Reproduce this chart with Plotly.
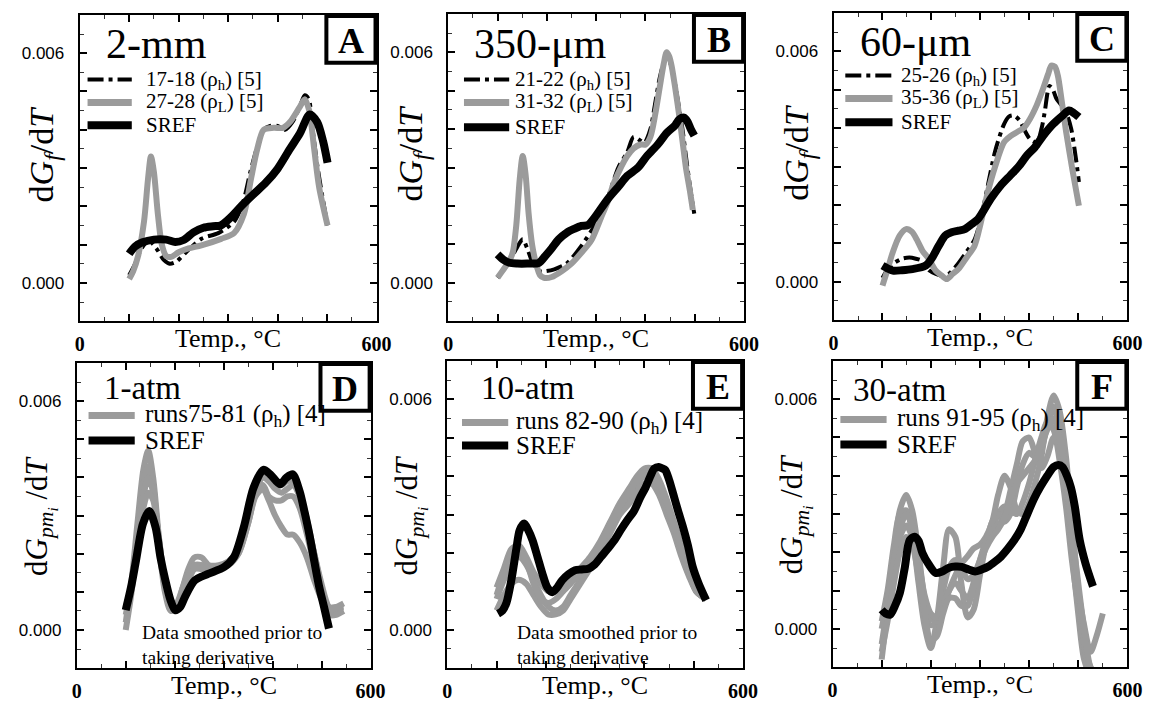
import plotly.graph_objects as go

W, H = 1164, 702

# ---------------- DATA ----------------
# Panel A (2-mm)
A_T_sref = [100,112,127,150,175,193,210,230,250,270,285,306,330,350,375,400,425,445,465,480,492,501]
A_sref = [0.00076,0.00095,0.00106,0.00113,0.00113,0.00107,0.00112,0.00132,0.00144,0.00148,0.0015,0.00172,0.00205,0.0023,0.0026,0.00298,0.0035,0.0039,0.0044,0.0042,0.0037,0.00314]
A_T_L = [100,108,118,130,138,144,150,158,166,175,185,200,220,246,286,312,332,346,359,372,392,411,425,445,455,464,474,484,501]
A_L = [0.0001,0.0003,0.0007,0.0016,0.0027,0.0033,0.0029,0.0018,0.0010,0.0007,0.00068,0.0008,0.0009,0.00098,0.00115,0.0013,0.0018,0.0027,0.0035,0.0040,0.00405,0.00405,0.0042,0.0046,0.0048,0.0045,0.0035,0.0025,0.0015]
A_T_h = [100,112,125,140,155,170,182,195,215,246,280,312,330,345,360,372,385,400,415,430,445,455,463,470,480,490,501]
A_h = [0.0002,0.0005,0.0009,0.0011,0.0009,0.0006,0.0005,0.00055,0.0008,0.00115,0.0013,0.0016,0.0021,0.0029,0.0036,0.0040,0.0041,0.0041,0.0040,0.0042,0.0046,0.0049,0.0048,0.0041,0.0031,0.0023,0.0015]

# Panel B (350-um)
B_T_sref = [100,112,124,140,160,184,197,210,224,240,255,270,283,297,323,345,363,385,403,425,443,460,469,478,485,492,499]
B_sref = [0.00074,0.0006,0.00052,0.0005,0.0005,0.00052,0.0007,0.0009,0.00113,0.0013,0.0014,0.00148,0.0015,0.0017,0.00217,0.0025,0.00278,0.003,0.0033,0.0036,0.0039,0.0041,0.00426,0.0043,0.0042,0.0040,0.00383]
B_T_L = [100,115,125,131,138,145,151,157,163,170,178,186,194,210,230,250,270,290,310,323,336,350,363,376,390,400,410,420,429,437,443,448,453,460,469,476,482,490,496]
B_L = [0.00013,0.0004,0.0006,0.0008,0.0015,0.0027,0.0033,0.0028,0.0018,0.0010,0.0005,0.0002,0.00013,0.00015,0.0003,0.0005,0.00078,0.0011,0.0017,0.0021,0.0026,0.0030,0.0033,0.0035,0.0036,0.0036,0.0038,0.0044,0.0051,0.0057,0.0060,0.0059,0.00565,0.0051,0.0043,0.0036,0.003,0.0024,0.0019]
B_T_h = [100,115,130,143,151,160,172,185,197,215,240,270,297,323,345,363,376,390,398,410,420,430,440,447,455,465,475,485,495,499]
B_h = [0.00013,0.0004,0.0007,0.001,0.00113,0.0009,0.0005,0.0003,0.0003,0.00035,0.0005,0.00096,0.0015,0.0022,0.0030,0.0034,0.0038,0.0037,0.00365,0.0040,0.0047,0.0054,0.0058,0.0058,0.0055,0.0048,0.0040,0.0030,0.0021,0.0018]

# Panel C (60-um)
C_T_sref = [100,110,121,140,161,188,200,215,228,241,255,268,282,295,321,341,361,378,395,411,428,448,468,481,490,501]
C_sref = [0.00042,0.00035,0.00029,0.0003,0.00033,0.00042,0.0006,0.00094,0.0012,0.00129,0.00133,0.00137,0.0015,0.00163,0.00216,0.0025,0.00277,0.003,0.00329,0.0035,0.0038,0.0041,0.00433,0.00446,0.0044,0.00429]
C_T_L = [100,110,121,135,148,160,170,182,195,208,221,231,243,255,270,288,300,315,330,348,362,375,388,401,415,428,438,445,452,458,466,475,488,501]
C_L = [-0.0001,0.0003,0.00077,0.0012,0.00137,0.0013,0.0011,0.0008,0.00059,0.0003,0.00016,0.00007,0.0002,0.00033,0.0006,0.00094,0.0015,0.00233,0.0030,0.00363,0.0038,0.0039,0.0040,0.00424,0.0046,0.00503,0.0054,0.00563,0.0056,0.00537,0.0047,0.0039,0.0029,0.00198]
C_T_h = [100,112,125,140,155,168,180,195,210,222,235,250,270,288,300,315,330,348,358,368,380,392,401,415,425,431,441,448,455,465,475,485,495,501]
C_h = [0.0001,0.00035,0.0005,0.0006,0.00063,0.0006,0.00055,0.0003,0.0002,0.00016,0.0002,0.0004,0.00075,0.0011,0.0016,0.0025,0.0034,0.0041,0.0043,0.00433,0.0042,0.0039,0.00372,0.00363,0.0040,0.0044,0.0051,0.0050,0.00477,0.0046,0.0044,0.0040,0.0032,0.0026]

# Panel D (1-atm)
D_T_sref = [100,111,121,135,148,161,171,181,191,201,211,221,241,268,301,321,341,361,381,395,415,428,441,455,465,475,485,495,505,515]
D_sref = [0.00052,0.00113,0.00182,0.00278,0.00312,0.00269,0.0019,0.0013,0.0008,0.00052,0.0006,0.00087,0.0013,0.00147,0.00165,0.00191,0.00269,0.00373,0.0042,0.00408,0.00382,0.00399,0.00408,0.00364,0.0031,0.0025,0.0018,0.00113,0.0006,0.00004]
D_T_runs = [100,112,124,136,146,156,168,180,192,204,216,228,240,255,270,290,310,330,350,365,380,392,405,418,430,442,455,470,485,500,515,530,545]
D_run1 = [0.0002,0.0013,0.0028,0.0042,0.0047,0.0040,0.0024,0.0012,0.0006,0.0006,0.0011,0.0016,0.0019,0.0019,0.0017,0.0017,0.0018,0.0020,0.0028,0.0036,0.0040,0.0039,0.0037,0.0036,0.0037,0.0038,0.0035,0.0028,0.0020,0.0012,0.0006,0.0005,0.0005]
D_run2 = [0.0000,0.0010,0.0025,0.0038,0.0043,0.0038,0.0022,0.0010,0.0005,0.0006,0.0009,0.0013,0.0016,0.0017,0.0016,0.0016,0.0018,0.0021,0.0029,0.0036,0.0038,0.0035,0.0034,0.0034,0.0035,0.0035,0.0032,0.0025,0.0017,0.0010,0.0006,0.0006,0.0006]
D_run3 = [0.0004,0.0012,0.0024,0.0035,0.0040,0.0036,0.0023,0.0011,0.0006,0.0007,0.0011,0.0015,0.0017,0.0017,0.0016,0.0016,0.0017,0.0020,0.0028,0.0035,0.0037,0.0034,0.0030,0.0027,0.0025,0.0025,0.0023,0.0019,0.0013,0.0008,0.0005,0.0006,0.0007]
D_run4 = [0.0006,0.0012,0.0022,0.0032,0.0036,0.0034,0.0024,0.0012,0.0006,0.0006,0.0010,0.0014,0.0016,0.0016,0.0016,0.0016,0.0018,0.0021,0.0029,0.0037,0.0041,0.0040,0.0038,0.0038,0.0039,0.0039,0.0036,0.0029,0.0020,0.0011,0.0004,0.0004,0.0005]

# Panel E (10-atm)
E_T_sref = [103,112,120,130,140,147,156,164,173,183,193,203,213,223,233,246,259,272,286,299,312,325,339,352,365,379,392,402,412,420,429,436,442,450,458,468,478,488,498,510,525]
E_sref = [0.00042,0.0005,0.0007,0.0013,0.0021,0.0026,0.00277,0.0026,0.00233,0.0019,0.00146,0.0011,0.00098,0.0011,0.00129,0.00145,0.00155,0.00157,0.00159,0.0017,0.0019,0.0021,0.00233,0.0026,0.00285,0.0031,0.00346,0.0037,0.004,0.0042,0.00424,0.0042,0.00416,0.0039,0.00355,0.0031,0.00268,0.0022,0.00163,0.0012,0.00077]
E_T_runs = [100,115,130,145,160,175,190,205,220,235,250,270,290,310,330,350,370,385,400,415,430,445,460,475,490,505,525]
E_run1 = [0.0011,0.0016,0.0021,0.0022,0.0019,0.0015,0.0012,0.0010,0.0010,0.0011,0.0013,0.0016,0.0019,0.0023,0.0028,0.0033,0.0037,0.0040,0.0042,0.0042,0.0039,0.0034,0.0028,0.0022,0.0016,0.0011,0.0008]
E_run2 = [0.0008,0.0013,0.0017,0.0019,0.0017,0.0013,0.0009,0.0006,0.0005,0.0006,0.0009,0.0013,0.0017,0.0021,0.0026,0.0031,0.0035,0.0038,0.0040,0.0040,0.0037,0.0032,0.0026,0.0020,0.0015,0.0010,0.0008]
E_run3 = [0.0005,0.0009,0.0012,0.0013,0.0012,0.0009,0.0006,0.0004,0.0004,0.0005,0.0008,0.0012,0.0016,0.0020,0.0025,0.0030,0.0033,0.0036,0.0038,0.0038,0.0035,0.0030,0.0025,0.0019,0.0014,0.0010,0.0008]
E_run4 = [0.0009,0.0015,0.0020,0.0021,0.0018,0.0012,0.0008,0.0007,0.0008,0.0010,0.0012,0.0015,0.0018,0.0022,0.0027,0.0032,0.0036,0.0039,0.0041,0.0041,0.0038,0.0033,0.0027,0.0021,0.0015,0.0010,0.0008]

# Panel F (30-atm)
F_T_sref = [100,108,117,127,137,147,157,167,175,183,195,210,223,237,250,263,277,290,303,317,330,343,357,370,383,397,410,423,437,450,460,468,477,485,493,503,515,530]
F_sref = [0.0005,0.0004,0.00037,0.0006,0.00094,0.0016,0.00232,0.00241,0.0023,0.00198,0.0017,0.00146,0.0015,0.0016,0.00163,0.00162,0.00155,0.0015,0.00155,0.00163,0.00175,0.00189,0.0021,0.00232,0.0026,0.00302,0.0034,0.00371,0.004,0.00423,0.00428,0.00423,0.0040,0.0037,0.0032,0.00232,0.0017,0.00111]
F_T_runs = [100,112,125,137,150,162,175,187,200,212,225,237,250,262,275,287,300,312,325,337,350,362,375,387,400,412,425,437,450,462,475,487,500,512,525,537,550]
F_run1 = [-0.0008,0.0005,0.0020,0.0031,0.0035,0.0031,0.0020,0.0008,0.0001,0.0002,0.0010,0.0016,0.0018,0.0016,0.0013,0.0014,0.0018,0.0022,0.0026,0.0030,0.0032,0.0031,0.0030,0.0033,0.0038,0.0044,0.0050,0.0054,0.0052,0.0044,0.0032,0.0018,0.0006,-0.0004,-0.0010,-0.0012,-0.0012]
F_run2 = [0.0002,0.0010,0.0022,0.0030,0.0031,0.0025,0.0012,0.0001,-0.0005,0.0002,0.0016,0.0026,0.0024,0.0012,0.0003,0.0005,0.0014,0.0022,0.0028,0.0030,0.0028,0.0030,0.0037,0.0043,0.0046,0.0045,0.0047,0.0053,0.0058,0.0052,0.0038,0.0020,0.0004,-0.0008,-0.0012,-0.0012,-0.0012]
F_run3 = [-0.0004,0.0006,0.0016,0.0024,0.0027,0.0024,0.0016,0.0008,0.0003,0.0002,0.0005,0.0010,0.0014,0.0017,0.0019,0.0021,0.0022,0.0024,0.0028,0.0035,0.0040,0.0037,0.0031,0.0030,0.0033,0.0038,0.0045,0.0055,0.0061,0.0057,0.0045,0.0028,0.0010,-0.0004,-0.0012,-0.0012,-0.0012]
F_run4 = [0.0000,0.0008,0.0018,0.0026,0.0030,0.0027,0.0018,0.0009,0.0004,0.0003,0.0006,0.0010,0.0012,0.0010,0.0008,0.0012,0.0018,0.0023,0.0026,0.0027,0.0030,0.0036,0.0043,0.0049,0.0050,0.0046,0.0042,0.0045,0.0050,0.0047,0.0038,0.0024,0.0010,0.0001,-0.0006,-0.0002,0.0004]
F_run5 = [-0.0006,0.0002,0.0012,0.0020,0.0024,0.0022,0.0014,0.0005,-0.0003,-0.0002,0.0004,0.0008,0.0008,0.0006,0.0006,0.0011,0.0017,0.0021,0.0024,0.0026,0.0029,0.0034,0.0038,0.0040,0.0042,0.0044,0.0048,0.0052,0.0055,0.0050,0.0040,0.0026,0.0012,0.0000,-0.0010,-0.0012,-0.0012]

# Labels
panel_letters = ["A", "B", "C", "D", "E", "F"]
panel_titles = ["2-mm", "350-μm", "60-μm", "1-atm", "10-atm", "30-atm"]
legend_top = [["17-18 (ρ<sub>h</sub>) [5]", "27-28 (ρ<sub>L</sub>) [5]", "SREF"],
              ["21-22 (ρ<sub>h</sub>) [5]", "31-32 (ρ<sub>L</sub>) [5]", "SREF"],
              ["25-26 (ρ<sub>h</sub>) [5]", "35-36 (ρ<sub>L</sub>) [5]", "SREF"]]
legend_bottom = [["runs75-81 (ρ<sub>h</sub>) [4]", "SREF"],
                 ["runs 82-90 (ρ<sub>h</sub>) [4]", "SREF"],
                 ["runs 91-95 (ρ<sub>h</sub>) [4]", "SREF"]]
x_tickvals = [0, 100, 200, 300, 400, 500, 600]
x_ticktext = ["<b>0</b>", "", "", "", "", "", "<b>600</b>"]
y_tickvals = [-0.001, 0.0, 0.001, 0.002, 0.003, 0.004, 0.005, 0.006, 0.007]
y_ticktext = ["", "0.000", "", "", "", "", "", "0.006", ""]
ytitle_top = "d<i>G<sub>f</sub></i>/d<i>T</i>"
ytitle_bottom = "d<i>G<sub>pm<sub>i</sub></sub></i> /d<i>T</i>"
xtitle = "Temp., °C"
note = "Data smoothed prior to<br>taking derivative"

# ---------------- STYLE ----------------
GRAY = "#9b9b9b"
SERIF = "Liberation Serif, Times New Roman, serif"
SANS = "Liberation Sans, Arial, sans-serif"
DASHDOT = "16px,5px,4px,5px"

# plot frames in pixels: (left, right, top, bottom)
boxes = [(76, 378, 15, 323), (451, 752, 14, 323), (843, 1142, 13, 322),
         (73, 372, 365, 672), (450, 751, 363, 672), (842, 1142, 363, 671)]

def PX(x):
    return x / W

def PY(y):
    return 1 - y / H

fig = go.Figure()

def add(panel, x, y, kind, name):
    ax = "" if panel == 1 else str(panel)
    if kind == "gray":
        line = dict(color=GRAY, width=6, shape="spline", smoothing=0.8)
    elif kind == "dash":
        line = dict(color="black", width=4, dash=DASHDOT, shape="spline", smoothing=0.8)
    else:
        line = dict(color="black", width=8, shape="spline", smoothing=0.8)
    fig.add_trace(go.Scatter(x=x, y=y, mode="lines", line=line, name=name,
                             xaxis="x" + ax, yaxis="y" + ax, showlegend=False,
                             hoverinfo="skip"))

# Panel A
add(1, A_T_h, A_h, "dash", "17-18")
add(1, A_T_L, A_L, "gray", "27-28")
add(1, A_T_sref, A_sref, "sref", "SREF")
# Panel B
add(2, B_T_h, B_h, "dash", "21-22")
add(2, B_T_L, B_L, "gray", "31-32")
add(2, B_T_sref, B_sref, "sref", "SREF")
# Panel C
add(3, C_T_h, C_h, "dash", "25-26")
add(3, C_T_L, C_L, "gray", "35-36")
add(3, C_T_sref, C_sref, "sref", "SREF")
# Panel D
for r in [D_run1, D_run2, D_run3, D_run4]:
    add(4, D_T_runs, r, "gray", "runs75-81")
add(4, D_T_sref, D_sref, "sref", "SREF")
# Panel E
for r in [E_run1, E_run2, E_run3, E_run4]:
    add(5, E_T_runs, r, "gray", "runs 82-90")
add(5, E_T_sref, E_sref, "sref", "SREF")
# Panel F
for r in [F_run1, F_run2, F_run3, F_run4, F_run5]:
    add(6, F_T_runs, r, "gray", "runs 91-95")
add(6, F_T_sref, F_sref, "sref", "SREF")

layout = dict(width=W, height=H, autosize=False,
              margin=dict(l=0, r=0, t=0, b=0),
              paper_bgcolor="white", plot_bgcolor="white",
              showlegend=False)

for i, (l, r, t, b) in enumerate(boxes, 1):
    sfx = "" if i == 1 else str(i)
    layout["xaxis" + sfx] = dict(
        domain=[PX(l), PX(r)], anchor="y" + sfx, range=[0, 600],
        showline=True, linecolor="black", linewidth=2, mirror="allticks",
        ticks="inside", ticklen=7, tickwidth=1.5, tickcolor="black",
        tickmode="array", tickvals=x_tickvals, ticktext=x_ticktext,
        tickfont=dict(family=SERIF, size=20, color="black"),
        ticklabelstandoff=4,
        minor=dict(ticks="inside", ticklen=4, tickwidth=1, dtick=50, tickcolor="#333", showgrid=False),
        showgrid=False, zeroline=False, fixedrange=True)
    layout["yaxis" + sfx] = dict(
        domain=[PY(b), PY(t)], anchor="x" + sfx, range=[-0.001, 0.007],
        showline=True, linecolor="black", linewidth=2, mirror="allticks",
        ticks="inside", ticklen=7, tickwidth=1.5, tickcolor="black",
        tickmode="array", tickvals=y_tickvals, ticktext=y_ticktext,
        tickfont=dict(family=SANS, size=17, color="black"),
        ticklabelstandoff=10,
        minor=dict(ticks="inside", ticklen=4, tickwidth=1, dtick=0.0005, tickcolor="#333", showgrid=False),
        showgrid=False, zeroline=False, fixedrange=True)

annotations = []
shapes = []

def text(x, y, s, size, family=SERIF, xanchor="left", yanchor="middle", angle=0, align="left"):
    annotations.append(dict(x=PX(x), y=PY(y), xref="paper", yref="paper", text=s,
                            showarrow=False, xanchor=xanchor, yanchor=yanchor,
                            textangle=angle, align=align,
                            font=dict(family=family, size=size, color="black")))

def hline(x0, x1, y, color, width, dash="solid"):
    shapes.append(dict(type="line", xref="paper", yref="paper",
                       x0=PX(x0), x1=PX(x1), y0=PY(y), y1=PY(y),
                       line=dict(color=color, width=width, dash=dash)))

# panel titles
title_pos = [(101, 44, 42), (475, 44, 42), (868, 42, 42),
             (99, 390, 33), (482, 390, 33), (861, 392, 33)]
for (x, y, s), t in zip(title_pos, panel_titles):
    text(x, y, t, s)

# letter boxes
for (l, r, t, b), letter in zip(boxes, panel_letters):
    bx0, bx1, by0, by1 = r - 51, r - 1, t + 1, t + 48
    shapes.append(dict(type="rect", xref="paper", yref="paper",
                       x0=PX(bx0), x1=PX(bx1), y0=PY(by1), y1=PY(by0),
                       line=dict(color="black", width=4), fillcolor="white", layer="above"))
    annotations.append(dict(x=PX((bx0 + bx1) / 2), y=PY((by0 + by1) / 2 + 2), xref="paper", yref="paper",
                            text="<b>%s</b>" % letter, showarrow=False, xanchor="center", yanchor="middle",
                            font=dict(family=SERIF, size=36, color="black")))

# legends, top row
leg_top_geo = [(84, 129, 141, [80, 103, 126]),
               (467, 513, 517, [80, 103, 128]),
               (855, 903, 910, [76, 99, 123])]
for (sx0, sx1, tx, ys), labels in zip(leg_top_geo, legend_top):
    hline(sx0, sx1, ys[0], "black", 4, DASHDOT)
    hline(sx0, sx1, ys[1], GRAY, 7)
    hline(sx0, sx1, ys[2], "black", 8)
    for yy, lab in zip(ys, labels):
        text(tx, yy, lab, 21)

# legends, bottom row
leg_bot_geo = [(85, 132, 140, [418, 443]),
               (465, 512, 518, [425, 448]),
               (850, 897, 906, [422, 447])]
for (sx0, sx1, tx, ys), labels in zip(leg_bot_geo, legend_bottom):
    hline(sx0, sx1, ys[0], GRAY, 7)
    hline(sx0, sx1, ys[1], "black", 8)
    for yy, lab in zip(ys, labels):
        text(tx, yy, lab, 25)

# axis titles
for i, (l, r, t, b) in enumerate(boxes):
    text((l + r) / 2, b + 17, xtitle, 26, xanchor="center")
    if i < 3:
        text(l - 36, (t + b) / 2 - 14, ytitle_top, 34, xanchor="center", angle=-90)
    else:
        text(l - 38, (t + b) / 2, ytitle_bottom, 31, xanchor="center", angle=-90)

# notes
text(137, 624, note, 19.5, yanchor="top")
text(519, 624, note, 19.5, yanchor="top")

layout["annotations"] = annotations
layout["shapes"] = shapes
fig.update_layout(**layout)

fig.write_html("out.html")
